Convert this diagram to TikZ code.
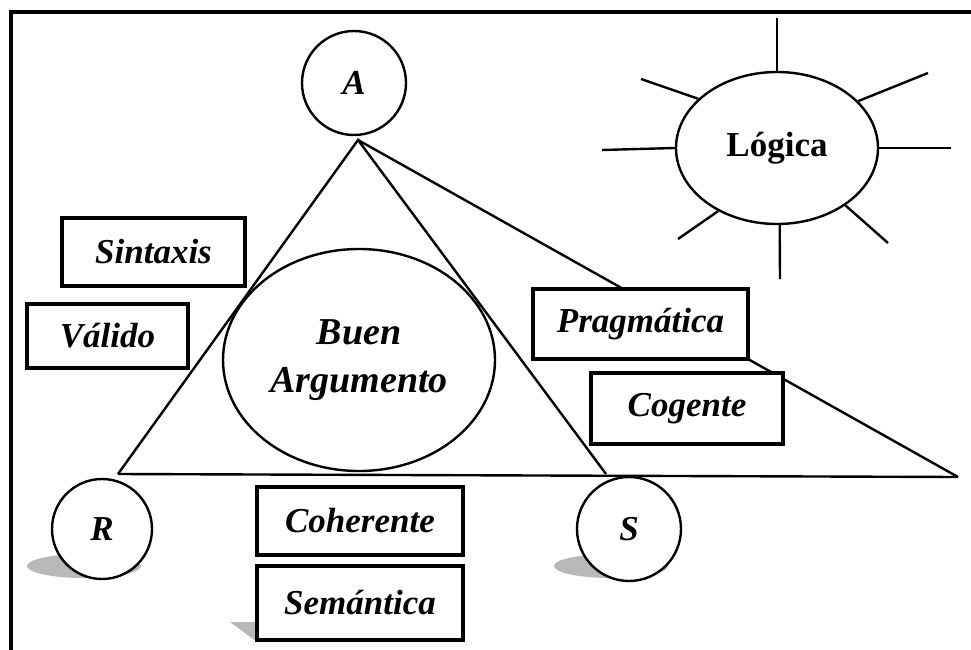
\documentclass[tikz,border=0pt]{standalone}
\usepackage{fontspec}
\setmainfont{Liberation Serif}
\usetikzlibrary{shapes.geometric}
\begin{document}
\begin{tikzpicture}[x=1pt,y=-1pt,
  lbl/.style={font=\fontsize{35}{46}\selectfont\bfseries\itshape},
  tbox/.style={draw, line width=3.2pt, fill=white, lbl, inner sep=0pt},
  circ/.style={circle, draw, line width=2.4pt, fill=white, lbl, inner sep=0pt},
  ln/.style={line width=2.4pt},
  shade/.style={fill=black!28, draw=none}]
\useasboundingbox (0,0) rectangle (971,650);
% frame
\draw[line width=3.5pt] (11,650) -- (11,12) -- (971,12);
% triangle
\coordinate (apex) at (358,140);
\coordinate (bl) at (118,474);
\coordinate (br) at (606,474);
\coordinate (far) at (958,477);
\draw[ln] (bl) -- (apex) -- (br);
\draw[ln] (apex) -- (far);
\draw[ln] (bl) -- (far);
% central ellipse
\node[ellipse, draw, ln, minimum width=272pt, minimum height=222pt, inner sep=0pt, font=\fontsize{38}{48}\selectfont\bfseries\itshape, align=center] (BA) at (359,360) {Buen\\Argumento};
% shadows
\fill[shade] (84,566) ellipse [x radius=57, y radius=12];
\fill[shade] (611,566) ellipse [x radius=57, y radius=12];
\fill[shade] (230,622) -- (257,622) -- (257,642) -- cycle;
% circles
\node[circ, minimum size=104pt] (A) at (354,83) {A};
\node[circ, minimum size=100pt] (R) at (102,529) {R};
\node[circ, minimum size=104pt] (S) at (629,529) {S};
% boxes
\node[tbox, minimum width=183pt, minimum height=68pt] (sin) at (153.5,252) {Sintaxis};
\node[tbox, minimum width=161pt, minimum height=64pt] (val) at (107.5,336) {Válido};
\node[tbox, minimum width=215pt, minimum height=70pt] (pra) at (640.5,324) {Pragmática};
\node[tbox, minimum width=192pt, minimum height=71pt] (cog) at (687,408.5) {Cogente};
\node[tbox, minimum width=206pt, minimum height=68pt] (coh) at (360,521) {Coherente};
\node[tbox, minimum width=206pt, minimum height=74pt] (sem) at (360,603) {Semántica};
% sun
\node[ellipse, draw, ln, fill=white, minimum width=202pt, minimum height=152pt, inner sep=0pt, font=\fontsize{35}{40}\selectfont\bfseries] (L) at (777,148) {Lógica};
\coordinate (t1) at (777,18);
\coordinate (t2) at (928,73);
\coordinate (t3) at (951,148);
\coordinate (t4) at (888,243);
\coordinate (t5) at (780,279);
\coordinate (t6) at (678,239);
\coordinate (t7) at (602,150);
\coordinate (t8) at (641,79);
\draw[ln] (L.90) -- (t1);
\draw[ln] (L.30) -- (t2);
\draw[ln] (L.0) -- (t3);
\draw[ln] (L.-40) -- (t4);
\draw[ln] (L.-88) -- (t5);
\draw[ln] (L.-133) -- (t6);
\draw[ln] (L.180) -- (t7);
\draw[ln] (L.148) -- (t8);
\end{tikzpicture}
\end{document}
